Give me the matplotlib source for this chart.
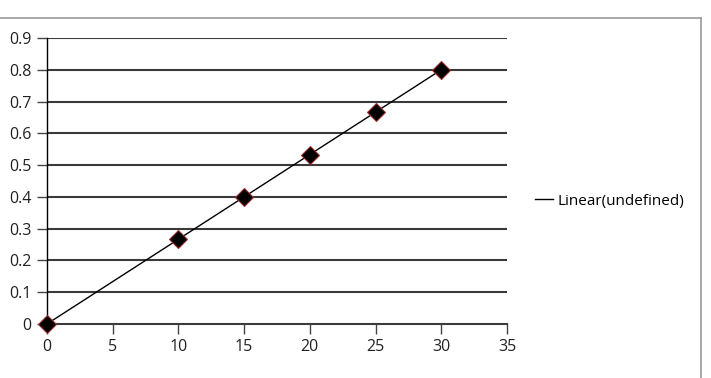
import numpy as np
import matplotlib.pyplot as plt
from matplotlib.lines import Line2D

# data
x_vals = [0, 10, 15, 20, 25, 30]
y_vals = [0, 0.267, 0.4, 0.533, 0.667, 0.8]
x_ticks = [0, 5, 10, 15, 20, 25, 30, 35]
y_ticks = [0, 0.1, 0.2, 0.3, 0.4, 0.5, 0.6, 0.7, 0.8, 0.9]
y_tick_labels = ["0", "0.1", "0.2", "0.3", "0.4", "0.5", "0.6", "0.7", "0.8", "0.9"]

plt.rcParams['font.family'] = ['Open Sans', 'DejaVu Sans']

fig = plt.figure(figsize=(7.11, 3.78), dpi=100)
ax = fig.add_axes([0.0661, 0.1429, 0.6470, 0.7566])

# horizontal gridlines
for yv in y_ticks[1:]:
    ax.axhline(yv, color='#3a3a3a', lw=1.5, zorder=1)

# linear trend line
coef = np.polyfit(x_vals, y_vals, 1)
tx = np.array([x_vals[0], x_vals[-1]])
ax.plot(tx, np.polyval(coef, tx), color='black', lw=1, zorder=2, label='Linear(undefined)')

# data points
ax.plot(x_vals, y_vals, linestyle='none', marker='D', markersize=9,
        markerfacecolor='black', markeredgecolor='#9a3030', markeredgewidth=0.8,
        zorder=3, clip_on=False)

ax.set_xlim(0, 35)
ax.set_ylim(0, 0.9)
ax.set_xticks(x_ticks)
ax.set_yticks(y_ticks)
ax.set_yticklabels(y_tick_labels)

for s in ['top', 'right']:
    ax.spines[s].set_visible(False)
ax.spines['left'].set_color('black')
ax.spines['left'].set_linewidth(1)
ax.spines['bottom'].set_color('#3a3a3a')
ax.spines['bottom'].set_linewidth(1.5)
ax.tick_params(axis='both', direction='out', length=7, width=1, colors='#444444',
               labelcolor='#222222', labelsize=11.5, pad=4)

leg = ax.legend(loc='center left', bbox_to_anchor=(1.03, 0.43), frameon=False,
                fontsize=11, handlelength=1.2, handletextpad=0.3)

# partial outer frame (top and right edges)
fig.add_artist(Line2D([0, 701 / 711], [1 - 18 / 378, 1 - 18 / 378],
                      transform=fig.transFigure, color='#999999', lw=1.2))
fig.add_artist(Line2D([701 / 711, 701 / 711], [0, 1 - 18 / 378],
                      transform=fig.transFigure, color='#999999', lw=1.2))

fig.savefig('out.png', dpi=100)
